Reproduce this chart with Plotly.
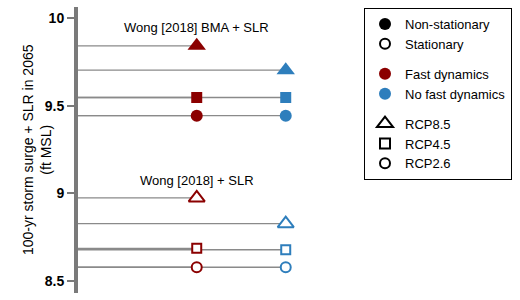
import plotly.graph_objects as go

# ---- data ----
scenarios = ["RCP8.5", "RCP4.5", "RCP2.6"]
symbols = ["triangle-up", "square", "circle"]
size_filled = [16, 11, 12]
size_open = [14, 9, 10]

nonstat_fast = [9.842, 9.547, 9.443]
nonstat_nofast = [9.703, 9.547, 9.443]
stat_fast = [8.973, 8.685, 8.577]
stat_nofast = [8.826, 8.677, 8.577]

x_fast = 1
x_nofast = 2

yticks = [8.5, 9, 9.5, 10]
ytick_labels = ["8.5", "9", "9.5", "10"]

RED = "#8b0000"
BLUE = "#2e7ebc"
LINE_GRAY = "#8a8a8a"
AXIS_GRAY = "#7a7a7a"

x_range = [-0.334, 2.385]
y_range = [8.43, 10.064]

W, H = 520, 300
ML, MR, MT, MB = 78, 200, 7, 7
plot_w = W - ML - MR
plot_h = H - MT - MB

fig = go.Figure()

series = [
    (nonstat_fast, x_fast, RED, True),
    (nonstat_nofast, x_nofast, BLUE, True),
    (stat_fast, x_fast, RED, False),
    (stat_nofast, x_nofast, BLUE, False),
]

# horizontal guide lines from axis to each point
for vals, xv, col, filled in series:
    for v in vals:
        fig.add_trace(go.Scatter(
            x=[x_range[0], xv], y=[v, v], mode="lines",
            line=dict(color=LINE_GRAY, width=1.3),
            showlegend=False, hoverinfo="skip"))

# markers
for vals, xv, col, filled in series:
    for i, v in enumerate(vals):
        fig.add_trace(go.Scatter(
            x=[xv], y=[v], mode="markers", name=scenarios[i],
            marker=dict(symbol=symbols[i],
                        size=size_filled[i] if filled else size_open[i],
                        color=col if filled else "white",
                        line=dict(width=0 if filled else 2, color=col)),
            showlegend=False))

# legend entries
def leg(name, sym, col, group, size, filled):
    fig.add_trace(go.Scatter(
        x=[None], y=[None], mode="markers", name=name, legendgroup=group,
        marker=dict(symbol=sym, size=size, color=col if filled else "white",
                    line=dict(width=0 if filled else 2, color=col))))

leg("Non-stationary", "circle", "black", "g1", 12, True)
leg("Stationary", "circle", "black", "g1", 10, False)
leg("Fast dynamics", "circle", RED, "g2", 12, True)
leg("No fast dynamics", "circle", BLUE, "g2", 12, True)
leg("RCP8.5", "triangle-up", "black", "g3", 14, False)
leg("RCP4.5", "square", "black", "g3", 10, False)
leg("RCP2.6", "circle", "black", "g3", 10, False)

fig.add_annotation(x=x_fast, y=9.946, text="Wong [2018] BMA + SLR", showarrow=False,
                   font=dict(size=13, color="black"), yanchor="middle")
fig.add_annotation(x=x_fast, y=9.073, text="Wong [2018] + SLR", showarrow=False,
                   font=dict(size=13, color="black"), yanchor="middle")

# y-axis title (placed as rotated text for precise position)
fig.add_annotation(xref="paper", yref="paper", x=0, y=0.5, xshift=37 - ML,
                   xanchor="center", yanchor="middle", textangle=-90,
                   text="100-yr storm surge + SLR in 2065<br>(ft MSL)",
                   showarrow=False, font=dict(size=14, color="black"))

fig.update_layout(
    width=W, height=H,
    margin=dict(l=ML, r=MR, t=MT, b=MB),
    paper_bgcolor="white", plot_bgcolor="white",
    font=dict(family="Liberation Sans, Arial, sans-serif", color="black"),
    showlegend=True,
    legend=dict(x=(364 - ML) / plot_w, y=(H - MB - 8) / plot_h,
                xanchor="left", yanchor="top", bordercolor="black", borderwidth=1,
                bgcolor="white", font=dict(size=13), tracegroupgap=10,
                itemwidth=30),
    xaxis=dict(range=x_range, visible=False, showgrid=False, zeroline=False),
    yaxis=dict(range=y_range, showgrid=False, zeroline=False, automargin=False,
               showline=True, linewidth=4, linecolor=AXIS_GRAY,
               ticks="outside", ticklen=7, tickwidth=1.5, tickcolor=AXIS_GRAY,
               tickvals=yticks, ticktext=ytick_labels,
               tickfont=dict(size=14, weight="bold", color="black")),
)

fig.write_html("out.html", config={"displayModeBar": False},
               post_script="document.body.style.margin='0';document.body.style.padding='0';")
